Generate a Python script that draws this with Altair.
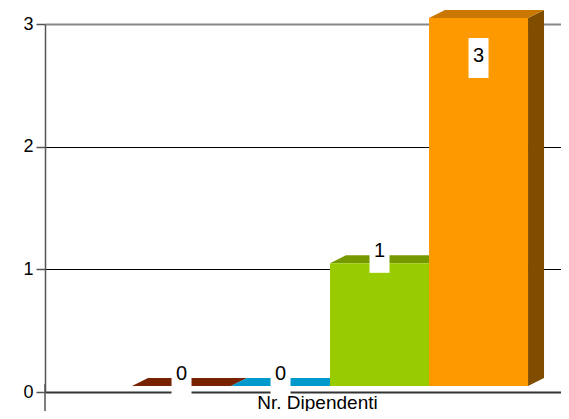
import altair as alt
import pandas as pd

# ---- data ----
categories = ["Serie 1", "Serie 2", "Serie 3", "Serie 4"]
values = [0, 0, 1, 3]
front_colors = ["#993300", "#00a8e0", "#99cc00", "#ff9900"]
top_colors = ["#772200", "#0099cc", "#779900", "#c97700"]
side_colors = ["#4d1a00", "#005c80", "#4d6600", "#7f4c00"]
y_ticks = [0, 1, 2, 3]
x_title = "Nr. Dipendenti"

# ---- pseudo-3D geometry (in data units) ----
BASE = 0.049   # lift of the bars' front face
DX = 0.1616    # depth, horizontal
DY = 0.0652    # depth, vertical

face_rows = []
front_rows = []
label_rows = []
vmax = max(values)
for i, (cat, v) in enumerate(zip(categories, values)):
    x0, x1 = i, i + 1
    b, t = BASE, v + BASE
    # side face
    k = f"{i}a"
    face_rows += [
        dict(key=k, x=x1, y=t, y2=b, color=side_colors[i]),
        dict(key=k, x=x1 + DX, y=t + DY, y2=b + DY, color=side_colors[i]),
    ]
    # top face
    k = f"{i}b"
    face_rows += [
        dict(key=k, x=x0, y=t, y2=t, color=top_colors[i]),
        dict(key=k, x=x0 + DX, y=t + DY, y2=t, color=top_colors[i]),
        dict(key=k, x=x1, y=t + DY, y2=t, color=top_colors[i]),
        dict(key=k, x=x1 + DX, y=t + DY, y2=t + DY, color=top_colors[i]),
    ]
    front_rows.append(dict(cat=cat, x=x0, x2=x1, y=b, y2=t, color=front_colors[i]))
    label_rows.append(dict(cat=cat, xc=(x0 + x1) / 2, y=t, text=str(v), inside=(v == vmax)))

faces = pd.DataFrame(face_rows)
fronts = pd.DataFrame(front_rows)
labels = pd.DataFrame(label_rows)

FONT = "Liberation Sans"

xscale = alt.Scale(domain=[-0.879, 4.333], nice=False, zero=False)
yscale = alt.Scale(domain=[0, 3], nice=False)

xaxis = alt.Axis(
    title=x_title, labels=False, ticks=False, grid=False,
    domainColor="#333333", domainWidth=2,
    titleFont=FONT, titleFontSize=19, titleFontWeight="normal", titleColor="#000000",
    titleBaseline="alphabetic", titleY=16, titleX=272,
)
yaxis = alt.Axis(
    title=None, values=y_ticks, format="d",
    labelFont=FONT, labelFontSize=18, labelColor="#000000", labelPadding=3,
    tickColor="#555555", tickSize=9, tickWidth=1.5,
    domainColor="#555555", domainWidth=1.5,
    gridColor=alt.condition("datum.value == 3", alt.value("#888888"), alt.value("#000000")),
    gridWidth=alt.condition("datum.value == 3", alt.value(2), alt.value(1)),
)

faces_layer = alt.Chart(faces).mark_area(interpolate="linear", opacity=1).encode(
    x=alt.X("x:Q", scale=xscale, axis=xaxis),
    y=alt.Y("y:Q", scale=yscale, axis=yaxis, stack=None),
    y2="y2:Q",
    detail="key:N",
    fill=alt.Fill("color:N", scale=None),
)

front_layer = alt.Chart(fronts).mark_rect(opacity=1).encode(
    x=alt.X("x:Q", scale=xscale),
    x2="x2:Q",
    y=alt.Y("y:Q", scale=yscale),
    y2="y2:Q",
    fill=alt.Fill("color:N", scale=None),
)

box_shape = "M-0.5,-1L0.5,-1L0.5,1L-0.5,1Z"

def label_layers(inside, dy):
    src = alt.Chart(labels).transform_filter(
        "datum.inside" if inside else "!datum.inside"
    )
    box = src.mark_point(
        shape=box_shape, size=1600, filled=True, fill="white", opacity=1,
        strokeWidth=0, yOffset=dy + 1.5,
    ).encode(x=alt.X("xc:Q", scale=xscale), y=alt.Y("y:Q", scale=yscale))
    txt = src.mark_text(
        font=FONT, fontSize=20, color="#000000", baseline="middle", align="center",
        dy=dy,
    ).encode(x=alt.X("xc:Q", scale=xscale), y=alt.Y("y:Q", scale=yscale), text="text:N")
    return [box, txt]

axis_ext = alt.Chart(pd.DataFrame({"a": [0]})).mark_rule(
    color="#555555", strokeWidth=1.5
).encode(x=alt.value(0), y=alt.value(360), y2=alt.value(392))

chart = alt.layer(
    faces_layer,
    front_layer,
    *label_layers(False, -12),
    *label_layers(True, 38.5),
    axis_ext,
).properties(
    width=516, height=368,
    autosize=alt.AutoSizeParams(type="none"),
    padding={"left": 37, "top": 16, "right": 0, "bottom": 19},
).configure_view(stroke=None)

chart.save("out.html", embed_options={"renderer": "svg", "actions": False})
